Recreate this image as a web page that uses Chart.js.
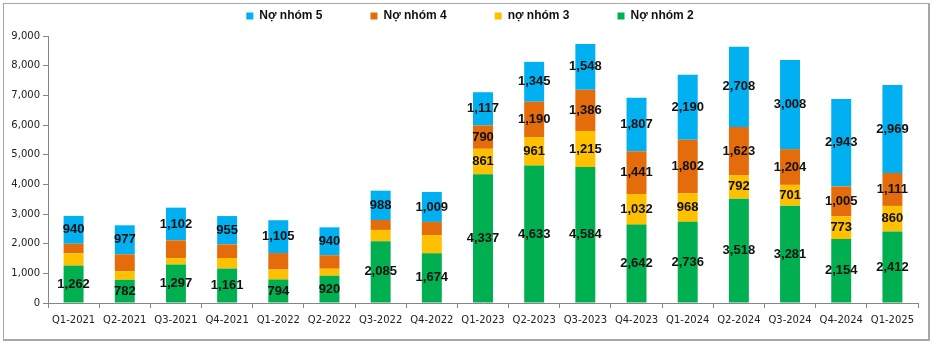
<!DOCTYPE html>
<html>
<head>
<meta charset="utf-8">
<script src="https://cdn.jsdelivr.net/npm/chart.js@4.4.0/dist/chart.umd.min.js"></script>
<style>
  html, body { margin: 0; padding: 0; background: #fff; }
  #wrap { position: relative; width: 938px; height: 349px; }
  #frame { position: absolute; left: 3px; top: 3px; width: 927px; height: 338px; border: 2px solid #a6a6a6; border-left-width: 1px; border-top-width: 1px; box-sizing: border-box; pointer-events: none; }
</style>
</head>
<body>
<div id="wrap">
  <canvas id="chart" width="938" height="349"></canvas>
  <div id="frame"></div>
</div>
<script>
// quarters on the x axis
const quarters = ['Q1-2021', 'Q2-2021', 'Q3-2021', 'Q4-2021', 'Q1-2022', 'Q2-2022', 'Q3-2022', 'Q4-2022',
  'Q1-2023', 'Q2-2023', 'Q3-2023', 'Q4-2023', 'Q1-2024', 'Q2-2024', 'Q3-2024', 'Q4-2024', 'Q1-2025'];

// values per group (first 8 values of nhom 3 / nhom 4 are estimated, no labels in the picture)
const nhom2 = [1262, 782, 1297, 1161, 794, 920, 2085, 1674, 4337, 4633, 4584, 2642, 2736, 3518, 3281, 2154, 2412];
const nhom3 = [410, 290, 215, 355, 335, 235, 378, 615, 861, 961, 1215, 1032, 968, 792, 701, 773, 860];
const nhom4 = [325, 570, 600, 460, 555, 455, 335, 445, 790, 1190, 1386, 1441, 1802, 1623, 1204, 1005, 1111];
const nhom5 = [940, 977, 1102, 955, 1105, 940, 988, 1009, 1117, 1345, 1548, 1807, 2190, 2708, 3008, 2943, 2969];

// first quarter index where the value label is shown
const labelStart = [0, 8, 8, 0];

const yTicks = [0, 1000, 2000, 3000, 4000, 5000, 6000, 7000, 8000, 9000];

// draw the numbers inside each bar segment
const segmentLabels = {
  id: 'segmentLabels',
  afterDatasetsDraw(chart) {
    const ctx = chart.ctx;
    ctx.save();
    ctx.font = 'bold 13px "Liberation Sans", Arial, sans-serif';
    ctx.fillStyle = '#111';
    ctx.textAlign = 'center';
    ctx.textBaseline = 'middle';
    chart.data.datasets.forEach((ds, di) => {
      const meta = chart.getDatasetMeta(di);
      meta.data.forEach((bar, i) => {
        if (i < labelStart[di]) return;
        const p = bar.getProps(['x', 'y', 'base'], true);
        ctx.fillText(ds.data[i].toLocaleString('en-US'), p.x, (p.y + p.base) / 2);
      });
    });
    ctx.restore();
  }
};

// wide gaps between legend items but a short legend box
const legendTweak = {
  id: 'legendTweak',
  beforeInit(chart) {
    const lg = chart.legend;
    const fit = lg.fit;
    lg.fit = function () { fit.call(this); this.height = 32; };
  },
  afterLayout(chart) {
    const lg = chart.legend;
    lg.top = -38;
    lg.left += 7;
    lg.right += 7;
  }
};

new Chart(document.getElementById('chart').getContext('2d'), {
  type: 'bar',
  data: {
    labels: quarters,
    datasets: [
      { label: 'Nợ nhóm 2', data: nhom2, backgroundColor: '#00B050' },
      { label: 'nợ nhóm 3', data: nhom3, backgroundColor: '#FFC000' },
      { label: 'Nợ nhóm 4', data: nhom4, backgroundColor: '#E46C0A' },
      { label: 'Nợ nhóm 5', data: nhom5, backgroundColor: '#00B0F0' }
    ]
  },
  options: {
    responsive: false,
    animation: false,
    layout: { padding: { left: 8, right: 20, top: 4, bottom: 17 } },
    datasets: { bar: { barPercentage: 0.39, categoryPercentage: 1.0 } },
    plugins: {
      tooltip: { enabled: false },
      legend: {
        position: 'top',
        reverse: true,
        labels: {
          boxWidth: 7,
          boxHeight: 7,
          padding: 48,
          color: '#111',
          font: { family: '"Liberation Sans", Arial, sans-serif', size: 12, weight: 'bold' }
        }
      }
    },
    scales: {
      x: {
        stacked: true,
        grid: { offset: true, drawOnChartArea: false, color: '#868686', tickLength: 5 },
        border: { color: '#868686' },
        ticks: { color: '#222', maxRotation: 0, autoSkip: false, padding: 6,
          font: { family: '"DejaVu Sans", sans-serif', size: 10 } }
      },
      y: {
        stacked: true,
        min: 0,
        max: 9000,
        afterBuildTicks(scale) { scale.ticks = yTicks.map(v => ({ value: v })); },
        afterFit(scale) { scale.width = 40; },
        grid: { drawOnChartArea: false, color: '#868686', tickLength: 5 },
        border: { color: '#868686' },
        ticks: { color: '#222', padding: 3,
          font: { family: '"DejaVu Sans", sans-serif', size: 10 },
          callback: v => v.toLocaleString('en-US') }
      }
    }
  },
  plugins: [segmentLabels, legendTweak]
});
</script>
</body>
</html>
